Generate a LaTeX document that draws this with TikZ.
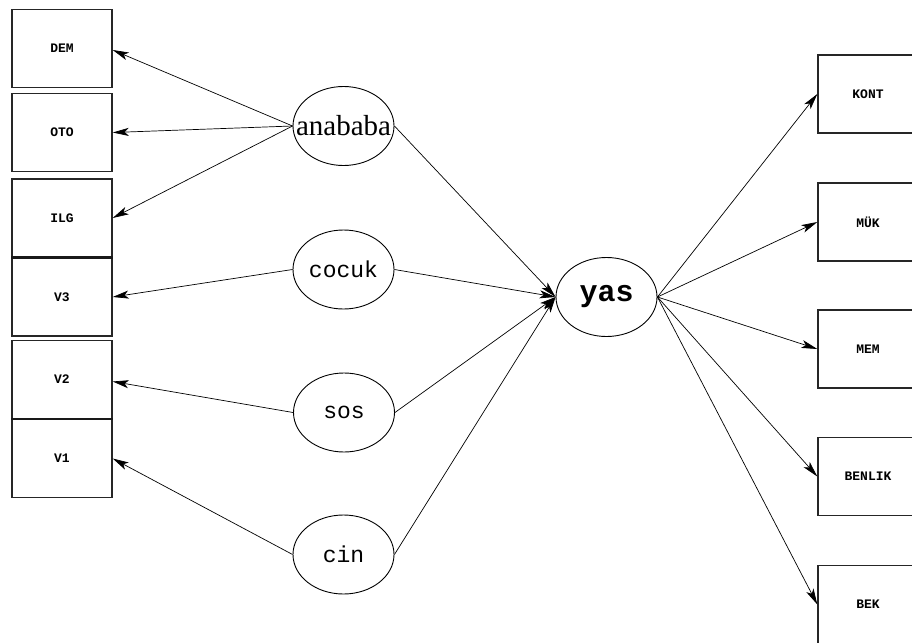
\documentclass[tikz,border=0pt]{standalone}
\usepackage{fontspec}
\setmainfont{Liberation Serif}
\newfontfamily\monofnt{Liberation Mono}
\usetikzlibrary{shapes.geometric,arrows.meta,calc}
\tikzset{
  box/.style={draw=black!85,line width=1.4pt,minimum width=100pt,minimum height=78pt,inner sep=0pt,
     font=\monofnt\bfseries\fontsize{13}{13}\selectfont},
  oval/.style={ellipse,draw=black,line width=0.9pt,minimum width=101pt,minimum height=79pt,inner sep=0pt},
  conn/.style={draw=black,line width=0.7pt,-{Stealth[length=16pt,width=8pt,inset=4pt]}},
}
\begin{document}
\begin{tikzpicture}[x=1pt,y=-1pt]
\useasboundingbox (0,0) rectangle (912,642);
\clip (0,0) rectangle (912,642);
% left boxes
\node[box] (DEM) at (62,48.5) {DEM};
\node[box] (OTO) at (62,132.5) {OTO};
\node[box] (ILG) at (62,218) {ILG};
\node[box] (V3) at (62,297) {V3};
\node[box] (V2) at (62,379.5) {V2};
\node[box] (V1) at (62,458.5) {V1};
\draw[line width=2.4pt,black!90] (V3.north west) -- (V3.north east);
\draw[line width=2.4pt,black!90] (V1.north west) -- (V1.north east);
% right boxes
\node[box] (KONT) at (868,94) {KONT};
\node[box] (MUK) at (868,222) {MÜK};
\node[box] (MEM) at (868,349) {MEM};
\node[box] (BENLIK) at (868,476.5) {BENLIK};
\node[box] (BEK) at (868,604.5) {BEK};
% ovals
\node[oval] (anababa) at (343.5,126) {\makebox[0pt]{\fontsize{29}{29}\selectfont anababa}};
\node[oval] (cocuk) at (343.5,269.5) {\makebox[0pt]{\monofnt\fontsize{23}{23}\selectfont cocuk}};
\node[oval] (sos) at (344,412.5) {\makebox[0pt]{\monofnt\fontsize{23}{23}\selectfont sos}};
\node[oval] (cin) at (343.5,554.5) {\makebox[0pt]{\monofnt\fontsize{23}{23}\selectfont cin}};
\node[oval] (yas) at (606.5,297) {\makebox[0pt]{\monofnt\bfseries\fontsize{30}{30}\selectfont yas}};
% connectors
\draw[conn] (anababa.west) -- ($(DEM.east)+(0,1.5)$);
\draw[conn] (anababa.west) -- (OTO.east);
\draw[conn] (anababa.west) -- (ILG.east);
\draw[conn] (cocuk.west) -- (V3.east);
\draw[conn] (sos.west) -- ($(V2.east)+(0,2)$);
\draw[conn] (cin.west) -- (V1.east);
\draw[conn] (anababa.east) -- (yas.west);
\draw[conn] (cocuk.east) -- (yas.west);
\draw[conn] (sos.east) -- (yas.west);
\draw[conn] (cin.east) -- (yas.west);
\draw[conn] (yas.east) -- (KONT.west);
\draw[conn] (yas.east) -- (MUK.west);
\draw[conn] (yas.east) -- (MEM.west);
\draw[conn] (yas.east) -- (BENLIK.west);
\draw[conn] (yas.east) -- (BEK.west);
\end{tikzpicture}
\end{document}
